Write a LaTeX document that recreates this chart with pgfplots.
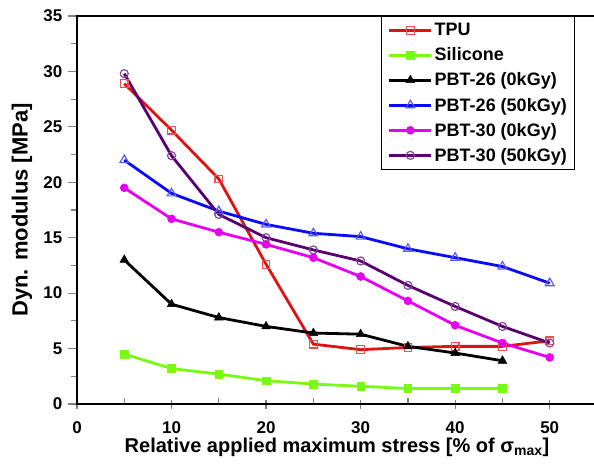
\documentclass[border=0pt]{standalone}
\usepackage{fontspec}
\setmainfont{Liberation Sans}
\usepackage{pgfplots}
\pgfplotsset{compat=1.18}

\definecolor{tpured}{RGB}{220,20,20}
\definecolor{tpumark}{RGB}{235,80,80}
\definecolor{silgreen}{RGB}{120,250,20}
\definecolor{pblue}{RGB}{10,10,250}
\definecolor{pbluemark}{RGB}{90,90,250}
\definecolor{pmag}{RGB}{230,0,240}
\definecolor{ppurp}{RGB}{90,0,110}
\definecolor{ppurpmark}{RGB}{130,70,150}

\begin{document}
\begin{tikzpicture}
\begin{axis}[
  scale only axis,
  width=520pt, height=388pt,
  xmin=0, xmax=55, ymin=0, ymax=35,
  xtick={0,10,...,50}, minor xtick={5,15,...,45},
  ytick={0,5,...,35}, minor ytick={2.5,7.5,...,32.5},
  tick align=center,
  major tick length=9pt, minor tick length=6pt,
  major x tick style={line width=1.2pt},
  minor x tick style={line width=1.2pt, yshift=3pt},
  major y tick style={line width=1.2pt, xshift=-4.5pt},
  minor y tick style={line width=1.2pt, xshift=-3pt},
  xtick pos=bottom, ytick pos=left,
  axis line style={line width=1.3pt},
  /pgf/number format/assume math mode=true,
  tick label style={font=\fontsize{17}{19}\selectfont\bfseries, inner sep=0pt},
  xticklabel style={anchor=base, yshift=-25pt},
  yticklabel style={anchor=east, xshift=-10pt},
  xlabel={Relative applied maximum stress [\% of σ\textsubscript{max}]},
  ylabel={Dyn. modulus [MPa]},
  xlabel style={font=\fontsize{20}{22}\selectfont\bfseries,
    at={(axis description cs:0.5,0)}, anchor=base, yshift=-48pt, inner sep=0pt},
  ylabel style={font=\fontsize{22}{24}\selectfont\bfseries,
    at={(axis description cs:-0.106,0.5)}, anchor=center},
  legend cell align=left,
  legend style={at={(axis cs:32.2,35)}, anchor=north west,
    font=\fontsize{18}{20}\selectfont\bfseries,
    draw=black, line width=1pt, inner xsep=6pt, inner ysep=5pt,
    row sep=6.5pt},
  legend image code/.code={
    \draw[mark repeat=2, mark phase=2]
      plot coordinates {(0pt,0pt) (21pt,0pt) (42pt,0pt)};},
  every axis plot/.append style={line width=2.8pt},
]
\addplot[color=tpured, mark=square, mark size=3.8pt,
  mark options={draw=tpumark, fill=white, line width=1.2pt}]
  coordinates {(5,28.9) (10,24.7) (15,20.3) (20,12.6) (25,5.4)
               (30,4.9) (35,5.1) (40,5.2) (45,5.2) (50,5.7)};
\addlegendentry{TPU}
\addplot[color=silgreen, mark=square*, mark size=3.8pt,
  mark options={draw=silgreen, fill=silgreen, line width=0.5pt}]
  coordinates {(5,4.5) (10,3.2) (15,2.7) (20,2.1) (25,1.8)
               (30,1.6) (35,1.4) (40,1.4) (45,1.4)};
\addlegendentry{Silicone}
\addplot[color=black, mark=triangle*, mark size=5pt,
  mark options={fill=black, line width=0.5pt}]
  coordinates {(5,13.0) (10,9.0) (15,7.8) (20,7.0) (25,6.4)
               (30,6.3) (35,5.2) (40,4.6) (45,3.9)};
\addlegendentry{PBT-26 (0kGy)}
\addplot[color=pblue, mark=triangle, mark size=5pt,
  mark options={draw=pbluemark, fill=white, line width=1.2pt}]
  coordinates {(5,22.0) (10,19.0) (15,17.4) (20,16.2) (25,15.4)
               (30,15.1) (35,14.0) (40,13.2) (45,12.4) (50,10.9)};
\addlegendentry{PBT-26 (50kGy)}
\addplot[color=pmag, mark=*, mark size=4pt,
  mark options={fill=pmag, draw=pmag, line width=0.5pt}]
  coordinates {(5,19.5) (10,16.7) (15,15.5) (20,14.4) (25,13.2)
               (30,11.5) (35,9.3) (40,7.1) (45,5.5) (50,4.2)};
\addlegendentry{PBT-30 (0kGy)}
\addplot[color=ppurp, mark=o, mark size=4pt,
  mark options={draw=ppurpmark, fill=white, line width=1.2pt}]
  coordinates {(5,29.8) (10,22.4) (15,17.1) (20,15.0) (25,13.9)
               (30,12.9) (35,10.7) (40,8.8) (45,7.0) (50,5.5)};
\addlegendentry{PBT-30 (50kGy)}
\end{axis}
% frame of the figure: the right edge of the axis box falls just outside it
\pgfresetboundingbox
\useasboundingbox (-77pt,-60pt) rectangle (517pt,404pt);
\end{tikzpicture}
\end{document}
